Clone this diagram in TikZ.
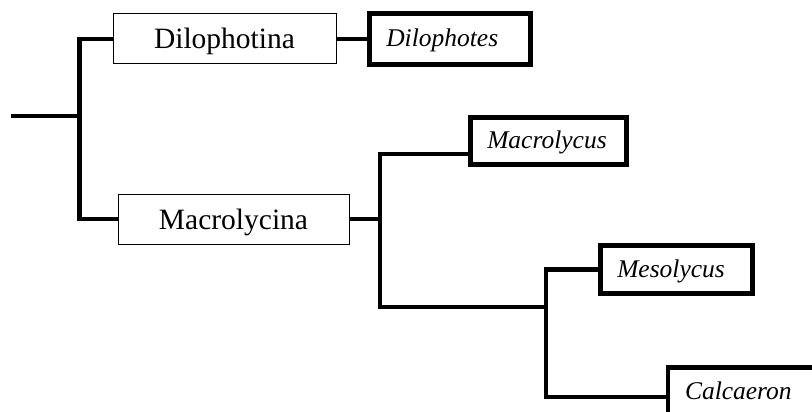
\documentclass[tikz,border=0pt]{standalone}
\usepackage{fontspec}
\setmainfont{Liberation Serif}[ItalicFont={Liberation Serif Italic}]
\usetikzlibrary{calc}

\begin{document}
\begin{tikzpicture}[x=1pt, y=-1pt, line join=miter,
	subtribe/.style={draw, line width=1pt, inner sep=0pt,
		font=\fontsize{29.5}{32}\selectfont, text height=20pt, text depth=0pt},
	genus/.style={draw, line width=4.8pt, align=left, inner xsep=17pt, inner ysep=0pt,
		font=\fontsize{25.5}{28}\selectfont\itshape, text height=17pt, text depth=1.5pt},
	branch/.style={line width=4.8pt}]

\useasboundingbox (0,0) rectangle (812,412);
\clip (0,0) rectangle (812,412);

%========================
% subtribes
%========================
\node[subtribe, minimum width=223pt, minimum height=50pt] (dilo) at (224.5,39) {Dilophotina};
\node[subtribe, minimum width=231pt, minimum height=50pt] (macro) at (233.5,219) {Macrolycina};

%========================
% genera
%========================
\node[genus, text width=127.5pt, minimum height=50.5pt] (dilophotes) at (450,39) {Dilophotes};
\node[genus, text width=122.5pt, minimum height=47.5pt] (macrolycus) at (548.5,141) {Macrolycus};
\node[genus, text width=118.5pt, minimum height=48.5pt] (mesolycus) at (676.5,269.5) {Mesolycus};
\node[genus, text width=122pt, minimum height=49pt] (calcaeron) at (746,392) {Calcaeron};

%========================
% branches
%========================
\coordinate (root) at (11,116);
\coordinate (j1) at (79.5,116);
\coordinate (j2) at (380,219);
\coordinate (j3) at (546,307);

\draw[branch] (root) -- (j1);
\draw[branch] (dilo.west) -| (j1) |- (macro.west);
\draw[branch] (dilo.east) -- (dilophotes.west);
\draw[branch] (macro.east) -- (j2);
% Macrolycus joins below the middle of its box
\draw[branch] ($(macrolycus.west)+(0,13)$) -| (j2) |- (j3);
\draw[branch] (mesolycus.west) -| (j3) |- ($(calcaeron.west)+(0,5)$);

\end{tikzpicture}
\end{document}
